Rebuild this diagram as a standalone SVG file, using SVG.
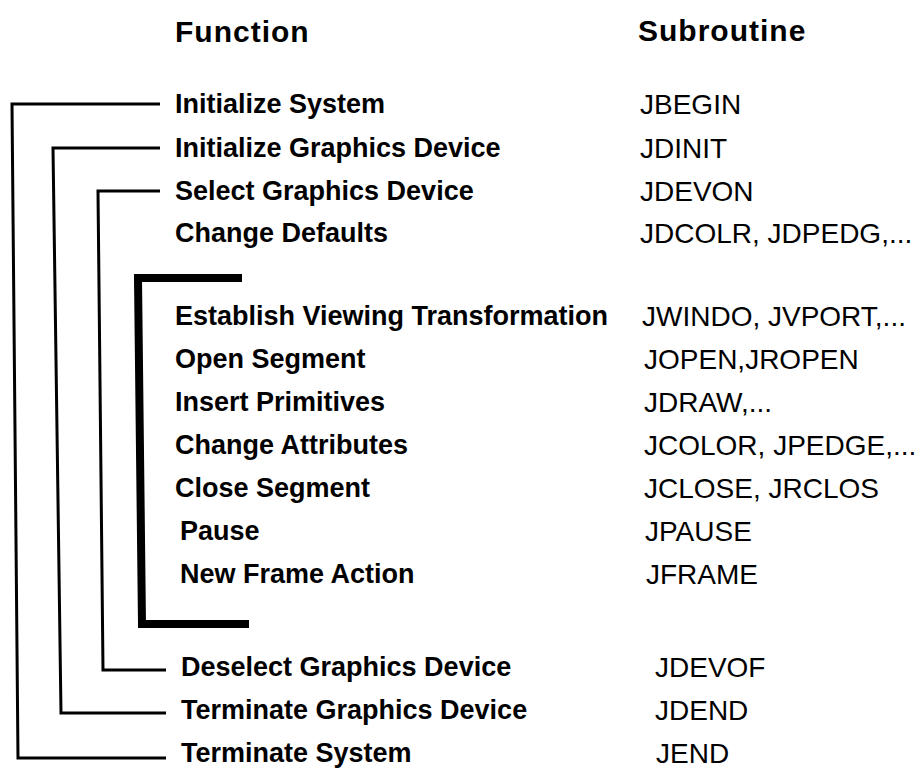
<svg xmlns="http://www.w3.org/2000/svg" width="924" height="770" viewBox="0 0 924 770">
<style>
.hd{font-family:"Liberation Sans",Arial,sans-serif;font-weight:bold;font-size:30px;letter-spacing:1px;fill:#000}
.fn{font-family:"Liberation Sans",Arial,sans-serif;font-weight:bold;font-size:27px;fill:#000}
.sb{font-family:"Liberation Sans",Arial,sans-serif;font-size:28px;fill:#000}
.br{fill:none;stroke:#000;stroke-width:3;stroke-linejoin:miter}
.thick{fill:none;stroke:#000;stroke-width:8;stroke-linejoin:miter}
</style>
<rect width="924" height="770" fill="#fff"/>
<g id="headers">
<text class="hd" x="175" y="42">Function</text>
<text class="hd" x="638" y="41">Subroutine</text>
</g>
<g id="connectors">
<polyline class="br" points="160,104 12,104 18,758 166,758"/>
<polyline class="br" points="160,148 53,148 61,713 166,713"/>
<polyline class="br" points="160,191 98,191 103,670 166,670"/>
<polyline class="thick" points="242,278 138,278 142,624 249,624"/>
</g>
<g id="n-init-system"><text class="fn" x="175" y="113">Initialize System</text><text class="sb" x="640" y="114">JBEGIN</text></g>
<g id="n-init-device"><text class="fn" x="175" y="157">Initialize Graphics Device</text><text class="sb" x="640" y="158">JDINIT</text></g>
<g id="n-select-device"><text class="fn" x="175" y="200">Select Graphics Device</text><text class="sb" x="640" y="201">JDEVON</text></g>
<g id="n-change-defaults"><text class="fn" x="175" y="242">Change Defaults</text><text class="sb" x="640" y="243">JDCOLR, JDPEDG,...</text></g>
<g id="n-viewing"><text class="fn" x="175" y="325">Establish Viewing Transformation</text><text class="sb" x="642" y="326">JWINDO, JVPORT,...</text></g>
<g id="n-open-segment"><text class="fn" x="175" y="368">Open Segment</text><text class="sb" x="644" y="369">JOPEN,JROPEN</text></g>
<g id="n-insert-primitives"><text class="fn" x="175" y="411">Insert Primitives</text><text class="sb" x="644" y="412">JDRAW,...</text></g>
<g id="n-change-attributes"><text class="fn" x="175" y="454">Change Attributes</text><text class="sb" x="644" y="455">JCOLOR, JPEDGE,...</text></g>
<g id="n-close-segment"><text class="fn" x="175" y="497">Close Segment</text><text class="sb" x="644" y="498">JCLOSE, JRCLOS</text></g>
<g id="n-pause"><text class="fn" x="180" y="540">Pause</text><text class="sb" x="645" y="541">JPAUSE</text></g>
<g id="n-new-frame"><text class="fn" x="180" y="583">New Frame Action</text><text class="sb" x="646" y="584">JFRAME</text></g>
<g id="n-deselect-device"><text class="fn" x="181" y="676">Deselect Graphics Device</text><text class="sb" x="655" y="677">JDEVOF</text></g>
<g id="n-terminate-device"><text class="fn" x="181" y="719">Terminate Graphics Device</text><text class="sb" x="655" y="720">JDEND</text></g>
<g id="n-terminate-system"><text class="fn" x="181" y="762">Terminate System</text><text class="sb" x="656" y="763">JEND</text></g>
</svg>
